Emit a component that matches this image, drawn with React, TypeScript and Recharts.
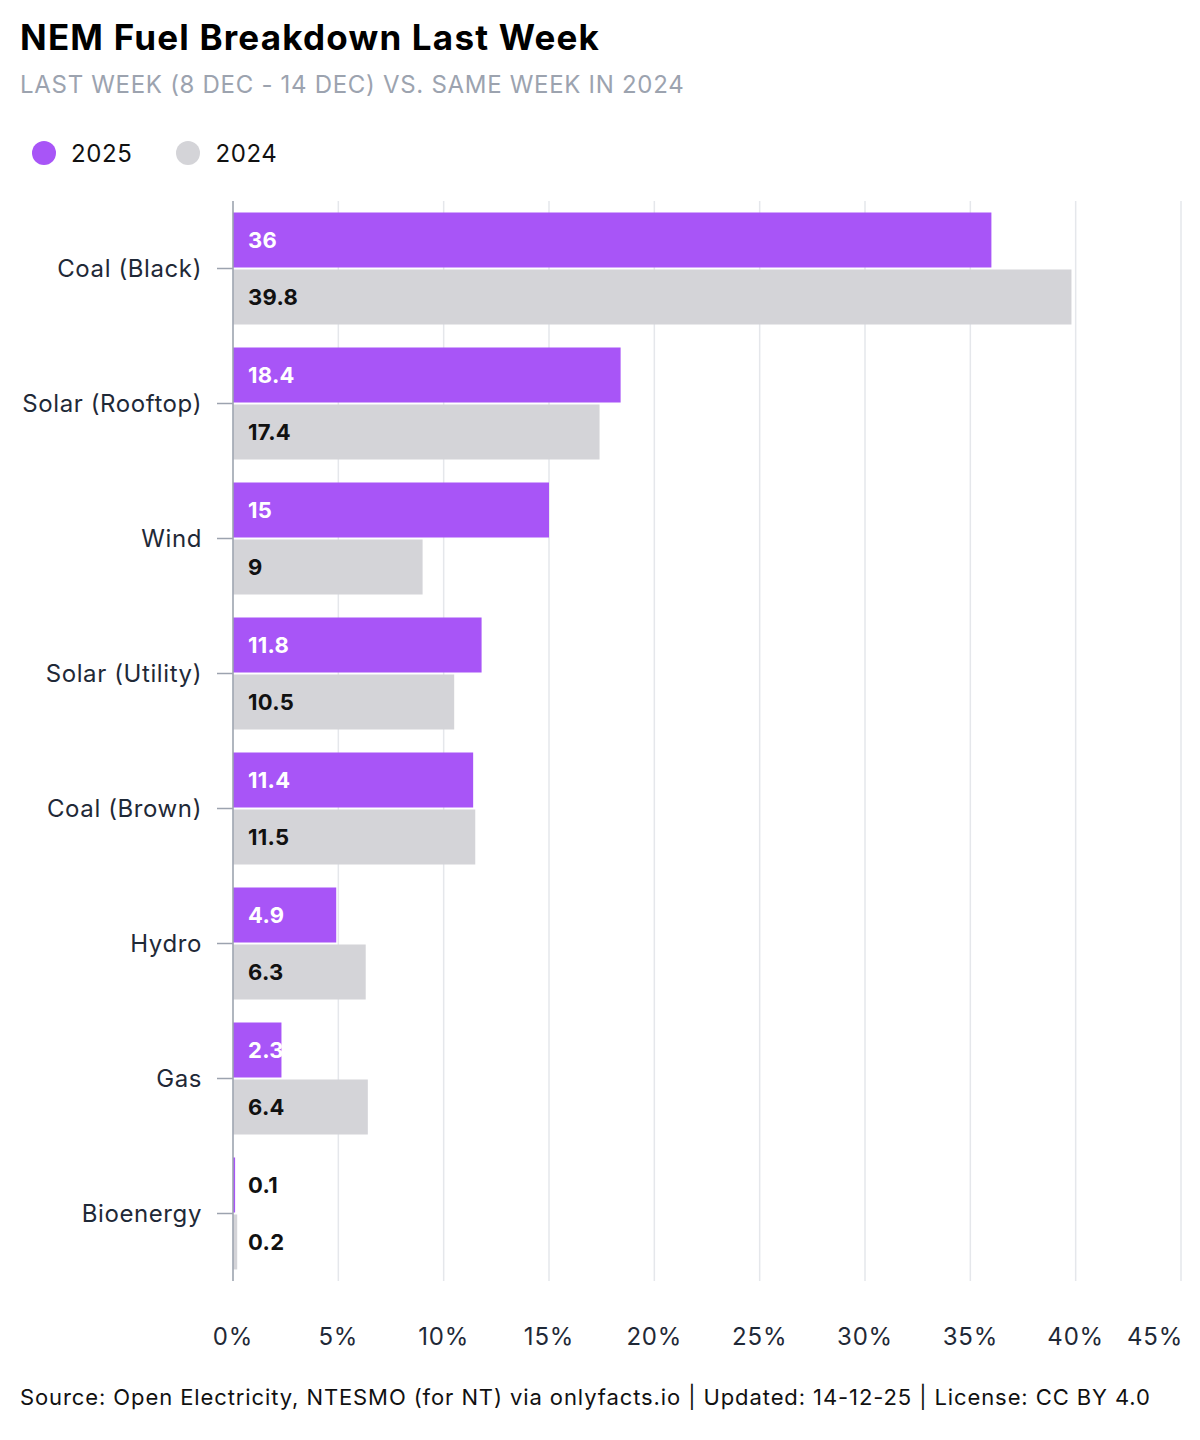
import { BarChart, Bar, XAxis, YAxis, CartesianGrid, LabelList } from "recharts";

const fuels = [
  "Coal (Black)",
  "Solar (Rooftop)",
  "Wind",
  "Solar (Utility)",
  "Coal (Brown)",
  "Hydro",
  "Gas",
  "Bioenergy",
];
const values2025 = [36, 18.4, 15, 11.8, 11.4, 4.9, 2.3, 0.1];
const values2024 = [39.8, 17.4, 9, 10.5, 11.5, 6.3, 6.4, 0.2];
const xTicks = [0, 5, 10, 15, 20, 25, 30, 35, 40, 45];

const data = fuels.map((fuel, i) => ({
  fuel,
  y2025: values2025[i],
  y2024: values2024[i],
}));

const PURPLE = "#a855f7";
const GREY = "#d4d4d8";
const FONT = "Inter, 'Noto Sans', sans-serif";

function XTick(props: any) {
  const { x, y, payload } = props;
  const last = payload.value === xTicks[xTicks.length - 1];
  return (
    <text
      x={last ? x + 2 : x}
      y={y + 56}
      dy="0.35em"
      textAnchor={last ? "end" : "middle"}
      fill="#1f2937"
      fontSize={24}
      letterSpacing={0.8}
      fontFamily={FONT}
    >
      {payload.value}%
    </text>
  );
}

function YTick(props: any) {
  const { x, y, payload } = props;
  return (
    <text
      x={x}
      y={y}
      dy="0.35em"
      textAnchor="end"
      fill="#1f2937"
      fontSize={24}
      letterSpacing={0.6}
      fontFamily={FONT}
    >
      {payload.value}
    </text>
  );
}

function makeLabel(light: boolean) {
  return (props: any) => {
    const { x, y, height, value } = props;
    const fill = light && value >= 1 ? "#ffffff" : "#111111";
    return (
      <text
        x={x + 15}
        y={y + height / 2}
        dy="0.35em"
        fill={fill}
        fontSize={22}
        fontWeight={700}
        letterSpacing={0.3}
        fontFamily={FONT}
      >
        {value}
      </text>
    );
  };
}

export default function App() {
  return (
    <div
      style={{
        position: "absolute",
        top: 0,
        left: 0,
        width: 1200,
        height: 1440,
        background: "#fff",
        fontFamily: FONT,
      }}
    >
      <div
        style={{
          position: "absolute",
          left: 20,
          top: 20,
          fontSize: 35,
          lineHeight: 1,
          fontWeight: 700,
          color: "#000",
          letterSpacing: 1.2,
        }}
      >
        NEM Fuel Breakdown Last Week
      </div>
      <div
        style={{
          position: "absolute",
          left: 20,
          top: 73,
          fontSize: 24,
          lineHeight: 1,
          color: "#9ca3af",
          letterSpacing: 0.7,
        }}
      >
        LAST WEEK (8 DEC - 14 DEC) VS. SAME WEEK IN 2024
      </div>
      <div
        style={{
          position: "absolute",
          left: 32,
          top: 138,
          height: 30,
          display: "flex",
          alignItems: "center",
          fontSize: 24,
          color: "#111",
          letterSpacing: 0.6,
        }}
      >
        <span style={{ width: 24, height: 24, borderRadius: 12, background: PURPLE, display: "inline-block" }} />
        <span style={{ marginLeft: 15 }}>2025</span>
        <span style={{ width: 24, height: 24, borderRadius: 12, background: GREY, display: "inline-block", marginLeft: 44 }} />
        <span style={{ marginLeft: 15 }}>2024</span>
      </div>

      <div style={{ position: "absolute", left: 0, top: 0 }}>
        <BarChart
          width={1200}
          height={1440}
          data={data}
          layout="vertical"
          margin={{ top: 201, right: 19, bottom: 99, left: 0 }}
          barCategoryGap="8.5%"
          barGap={2}
        >
          <CartesianGrid horizontal={false} stroke="#e5e7eb" strokeWidth={1.5} />
          <XAxis
            type="number"
            domain={[0, 45]}
            ticks={xTicks}
            axisLine={false}
            tickLine={false}
            tickSize={0}
            tickMargin={0}
            height={60}
            tick={<XTick />}
          />
          <YAxis
            type="category"
            dataKey="fuel"
            width={233}
            axisLine={{ stroke: "#9ca3af", strokeWidth: 1.5 }}
            tickLine={{ stroke: "#9ca3af", strokeWidth: 1.5 }}
            tickSize={16}
            tickMargin={15}
            tick={<YTick />}
          />
          <Bar dataKey="y2025" fill={PURPLE} isAnimationActive={false}>
            <LabelList dataKey="y2025" content={makeLabel(true)} />
          </Bar>
          <Bar dataKey="y2024" fill={GREY} isAnimationActive={false}>
            <LabelList dataKey="y2024" content={makeLabel(false)} />
          </Bar>
        </BarChart>
      </div>

      <div
        style={{
          position: "absolute",
          left: 20,
          top: 1386,
          fontSize: 22,
          lineHeight: 1,
          color: "#111",
          letterSpacing: 0.9,
        }}
      >
        Source: Open Electricity, NTESMO (for NT) via onlyfacts.io | Updated: 14-12-25 | License: CC BY 4.0
      </div>
    </div>
  );
}
